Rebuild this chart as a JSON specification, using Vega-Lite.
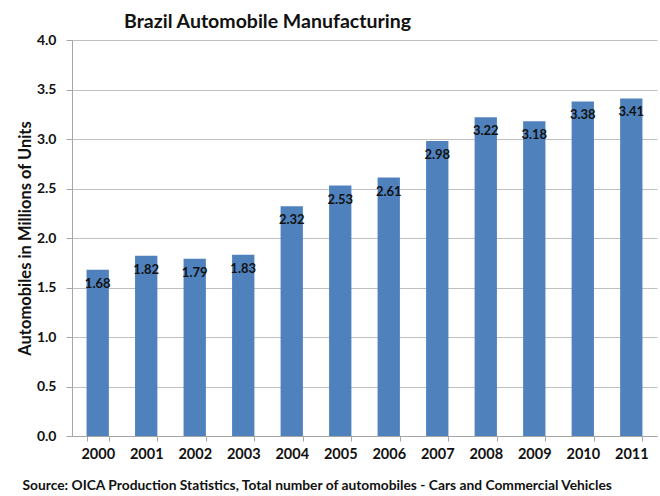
{
  "$schema": "https://vega.github.io/schema/vega-lite/v6.json",
  "autosize": "none",
  "width": 585,
  "height": 396,
  "padding": {"left": 72, "top": 40, "right": 3, "bottom": 60},
  "background": "white",
  "title": {
    "text": "Brazil Automobile Manufacturing",
    "font": "Lato",
    "fontSize": 19.5,
    "fontWeight": "bold",
    "color": "#111111",
    "anchor": "middle",
    "dx": -97,
    "offset": 1
  },
  "data": {
    "values": [
      {"year": "2000", "units": 1.68},
      {"year": "2001", "units": 1.82},
      {"year": "2002", "units": 1.79},
      {"year": "2003", "units": 1.83},
      {"year": "2004", "units": 2.32},
      {"year": "2005", "units": 2.53},
      {"year": "2006", "units": 2.61},
      {"year": "2007", "units": 2.98},
      {"year": "2008", "units": 3.22},
      {"year": "2009", "units": 3.18},
      {"year": "2010", "units": 3.38},
      {"year": "2011", "units": 3.41}
    ]
  },
  "config": {
    "view": {"stroke": null},
    "font": "Lato"
  },
  "encoding": {
    "x": {
      "field": "year",
      "type": "nominal",
      "scale": {"paddingInner": 0.54, "paddingOuter": 0.3},
      "axis": {
        "title": "Source: OICA Production Statistics, Total number of automobiles -  Cars and Commercial Vehicles",
        "titleFont": "Lato",
        "titleFontSize": 13.8,
        "titleFontWeight": "bold",
        "titleColor": "#111111",
        "titleAnchor": "start",
        "titleAlign": "left",
        "titleX": -50,
        "titlePadding": 18,
        "labelAngle": 0,
        "labelFont": "Lato",
        "labelFontSize": 14.5,
        "labelFontWeight": "bold",
        "labelColor": "#111111",
        "labelPadding": 6,
        "tickBand": "extent",
        "tickColor": "#a6a6a6",
        "tickSize": 5,
        "domainColor": "#a6a6a6",
        "grid": false
      }
    },
    "y": {
      "field": "units",
      "type": "quantitative",
      "scale": {"domain": [0, 4]},
      "axis": {
        "title": "Automobiles in Millions of Units",
        "titleFont": "Lato",
        "titleFontSize": 16.5,
        "titleFontWeight": "bold",
        "titleColor": "#111111",
        "titlePadding": 3,
        "values": [0, 0.5, 1, 1.5, 2, 2.5, 3, 3.5, 4],
        "format": ".1f",
        "labelFont": "Lato",
        "labelFontSize": 14,
        "labelFontWeight": "bold",
        "labelColor": "#111111",
        "labelPadding": 10,
        "tickColor": "#a6a6a6",
        "tickSize": 6,
        "domainColor": "#a6a6a6",
        "gridColor": "#bfbfbf",
        "gridWidth": 1
      }
    }
  },
  "layer": [
    {
      "mark": {"type": "bar", "color": "#4f81bd"}
    },
    {
      "mark": {
        "type": "text",
        "baseline": "top",
        "dy": 8,
        "font": "Lato",
        "fontSize": 13,
        "fontWeight": "bold",
        "color": "#111111"
      },
      "encoding": {
        "text": {"field": "units", "type": "quantitative", "format": ".2f"}
      }
    }
  ]
}
